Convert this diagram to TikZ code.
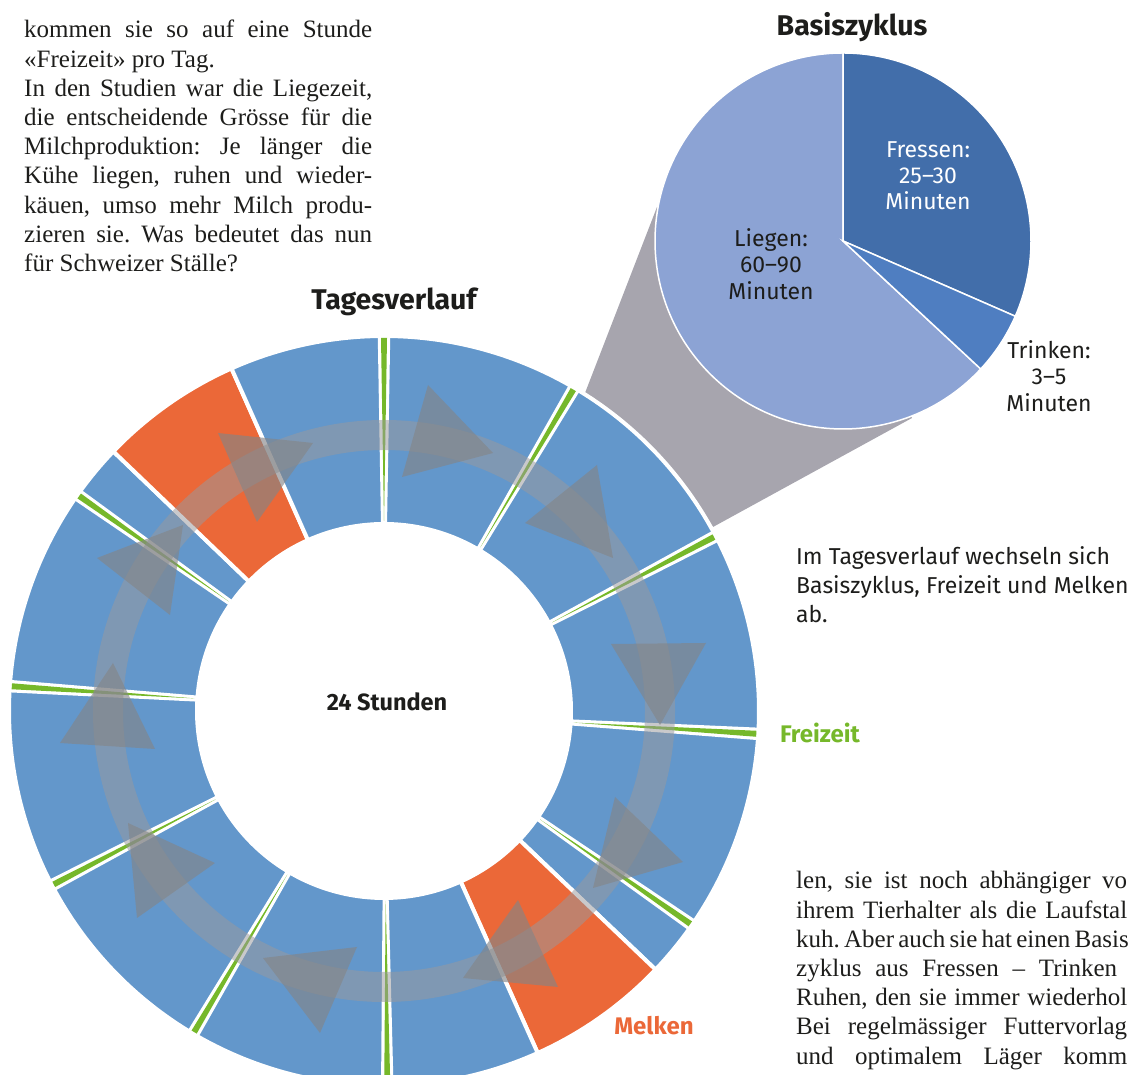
\documentclass[tikz,border=0pt]{standalone}
\usepackage{fontspec}
\setmainfont{Liberation Serif}
\newfontfamily\sffira{Fira Sans}
\usetikzlibrary{calc}
\definecolor{blueseg}{RGB}{99,151,203}
\definecolor{orangeseg}{RGB}{235,104,56}
\definecolor{greenseg}{RGB}{118,184,42}
\definecolor{piedark}{RGB}{66,110,170}
\definecolor{piemid}{RGB}{79,126,193}
\definecolor{pielight}{RGB}{140,163,212}
\definecolor{trapgray}{RGB}{167,165,174}
\definecolor{ringgray}{RGB}{153,153,157}
\definecolor{trigray}{RGB}{132,133,135}
\definecolor{txtblack}{RGB}{29,29,27}
\newcommand\dseg[3]{%
  \filldraw[fill=#3, draw=white, line width=4pt]
    ([shift={({#1}:375)}]O) arc[start angle={#1}, end angle={#2}, radius=375]
    -- ([shift={({#2}:187)}]O) arc[start angle={#2}, end angle={#1}, radius=187] -- cycle;}
\newcommand\fsliver[1]{%
  \fill[white] ($(O)+({#1}:185)+({#1+90}:3)$) -- ($(O)+({#1}:379)+({#1+90}:6.3)$)
    -- ($(O)+({#1}:379)+({#1-90}:6.3)$) -- ($(O)+({#1}:185)+({#1-90}:3)$) -- cycle;
  \fill[greenseg] ($(O)+({#1}:190)$) -- ($(O)+({#1}:373)+({#1+90}:3)$)
    -- ($(O)+({#1}:373)+({#1-90}:3)$) -- cycle;}
\newcommand\jline[2]{\makebox[#1][s]{#2}}
\begin{document}
\frenchspacing
\begin{tikzpicture}[x=1pt,y=1pt,
  serif/.style={font=\frenchspacing\fontsize{25}{29}\selectfont, text=txtblack, inner sep=0pt, anchor=base west},
  sanslabel/.style={font=\sffira\fontsize{23}{27}\selectfont, text=txtblack, inner sep=0pt, anchor=base},
  boldtitle/.style={font=\sffira\bfseries\fontsize{28.5}{32}\selectfont, text=txtblack, inner sep=0pt, anchor=base},
  boldlabel/.style={font=\sffira\bfseries\fontsize{24}{28}\selectfont, inner sep=0pt, anchor=base},
  piedraw/.style={draw=white, line width=1.5pt},
  tri/.style={fill=trigray, fill opacity=0.63}]
\useasboundingbox (0,0) rectangle (1129,1075);
\clip (0,0) rectangle (1129,1075);
\coordinate (O) at (384,364);
\coordinate (P) at (843,834);

% connector between day cycle and basic cycle
\fill[trapgray] (585,682) -- (713,548) -- (912,657) -- (P) -- (657,868) -- cycle;

% pie chart Basiszyklus
\filldraw[fill=pielight, piedraw] (P) -- ([shift={(-42.9:188)}]P) arc[start angle=-42.9, end angle=-270, radius=188] -- cycle;
\filldraw[fill=piedark, piedraw] (P) -- ([shift={(90:188)}]P) arc[start angle=90, end angle=-23.6, radius=188] -- cycle;
\filldraw[fill=piemid, piedraw] (P) -- ([shift={(-23.6:188)}]P) arc[start angle=-23.6, end angle=-42.9, radius=188] -- cycle;

% donut Tagesverlauf
\dseg{90}{59.5}{blueseg}
\dseg{59.5}{27.8}{blueseg}
\dseg{27.8}{-3.5}{blueseg}
\dseg{-3.5}{-34.8}{blueseg}
\dseg{-34.8}{-43.6}{blueseg}
\dseg{-43.6}{-65.8}{orangeseg}
\dseg{-65.8}{-89.5}{blueseg}
\dseg{-89.5}{-120.6}{blueseg}
\dseg{-120.6}{-152.3}{blueseg}
\dseg{-152.3}{-183.8}{blueseg}
\dseg{-183.8}{-215.2}{blueseg}
\dseg{-215.2}{-223.8}{blueseg}
\dseg{-223.8}{-246}{orangeseg}
\dseg{-246}{-270}{blueseg}

% Freizeit slivers
\fsliver{90}
\fsliver{59.5}
\fsliver{27.8}
\fsliver{-3.5}
\fsliver{-34.8}
\fsliver{-89.5}
\fsliver{-120.6}
\fsliver{-152.3}
\fsliver{-183.8}
\fsliver{-215.2}

% circular arrow band
\draw[draw=ringgray, draw opacity=0.52, line width=30pt] (O) circle[radius=276];
\fill[tri] (428,690) -- (402,598) -- (493,622) -- cycle;
\fill[tri] (597,610) -- (525,552) -- (613,517) -- cycle;
\fill[tri] (611,431) -- (706,432) -- (660,350) -- cycle;
\fill[tri] (615,278) -- (683,213) -- (593,187) -- cycle;
\fill[tri] (518,175) -- (558,88) -- (463,97) -- cycle;
\fill[tri] (357,128) -- (320,42) -- (263,117) -- cycle;
\fill[tri] (128,252) -- (215,212) -- (137,157) -- cycle;
\fill[tri] (113,412) -- (60,332) -- (155,326) -- cycle;
\fill[tri] (97,517) -- (170,460) -- (183,550) -- cycle;
\fill[tri] (218,642) -- (313,632) -- (257,553) -- cycle;

% titles and labels
\node[boldtitle] (tbasis) at (852,1039) {Basiszyklus};
\node[boldtitle] (ttag) at (394,765) {Tagesverlauf};
\node[boldlabel, text=txtblack, font=\sffira\bfseries\fontsize{23.5}{28}\selectfont] (tstd) at (387,364) {24 Stunden};
\node[boldlabel, text=greenseg] (tfrei) at (820,332) {Freizeit};
\node[boldlabel, text=orangeseg] (tmelk) at (654,40) {Melken};

\node[sanslabel, text=white] (f1) at (928,917) {Fressen:};
\node[sanslabel, text=white] (f2) at (928,891) {25–30};
\node[sanslabel, text=white] (f3) at (928,865) {Minuten};
\node[sanslabel] (l1) at (771,828) {Liegen:};
\node[sanslabel] (l2) at (771,802) {60–90};
\node[sanslabel] (l3) at (771,775) {Minuten};
\node[sanslabel] (r1) at (1049,716) {Trinken:};
\node[sanslabel] (r2) at (1049,690) {3–5};
\node[sanslabel] (r3) at (1049,663) {Minuten};

\node[sanslabel, anchor=base west] (c1) at (796,510) {Im Tagesverlauf wechseln sich};
\node[sanslabel, anchor=base west] (c2) at (796,481) {Basiszyklus, Freizeit und Melken};
\node[sanslabel, anchor=base west] (c3) at (796,452) {ab.};

% body text left column
\node[serif] (a1) at (24,1037) {\jline{348pt}{kommen sie so auf eine Stunde}};
\node[serif] (a2) at (24,1007.8) {«Freizeit» pro Tag.};
\node[serif] (a3) at (24,978.6) {\jline{348pt}{In den Studien war die Liegezeit,}};
\node[serif] (a4) at (24,949.4) {\jline{348pt}{die entscheidende Grösse für die}};
\node[serif] (a5) at (24,920.2) {\jline{348pt}{Milchproduktion: Je länger die}};
\node[serif] (a6) at (24,891) {\jline{348pt}{Kühe liegen, ruhen und wieder-}};
\node[serif] (a7) at (24,861.8) {\jline{348pt}{käuen, umso mehr Milch produ-}};
\node[serif] (a8) at (24,832.6) {\jline{348pt}{zieren sie. Was bedeutet das nun}};
\node[serif] (a9) at (24,803.4) {für Schweizer Ställe?};

% body text right column (as far as the page shows it)
\node[serif] (b1) at (796,186) {\jline{331pt}{len, sie ist noch abhängiger vo}};
\node[serif] (b2) at (796,156.8) {\jline{331pt}{ihrem Tierhalter als die Laufstal}};
\node[serif] (b3) at (796,127.6) {\jline{331pt}{kuh. Aber auch sie hat einen Basis}};
\node[serif] (b4) at (796,98.4) {\jline{321pt}{zyklus aus Fressen – Trinken}};
\node[serif] (b5) at (796,69.2) {\jline{331pt}{Ruhen, den sie immer wiederhol}};
\node[serif] (b6) at (796,40) {\jline{331pt}{Bei regelmässiger Futtervorlag}};
\node[serif] (b7) at (796,10.8) {\jline{331pt}{und optimalem Läger komm}};
\end{tikzpicture}
\end{document}
